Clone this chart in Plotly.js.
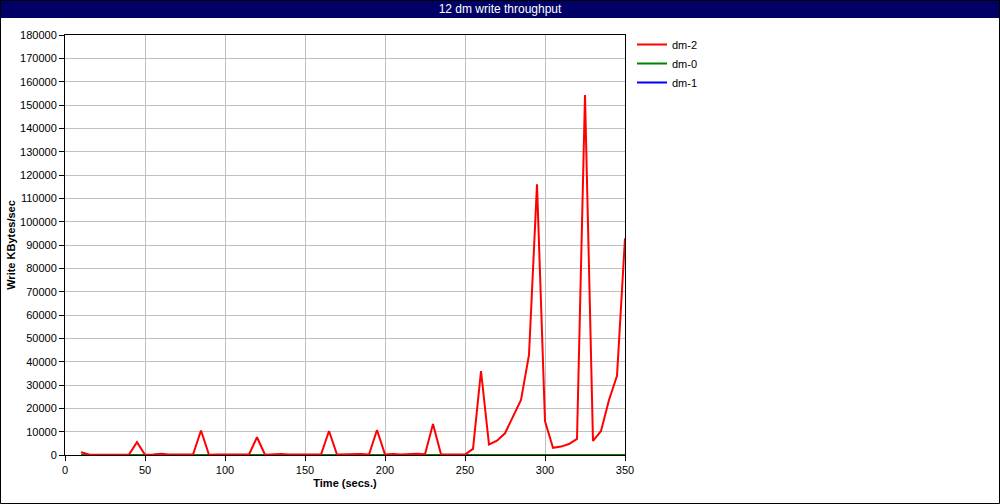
<!DOCTYPE html>
<html><head><meta charset="utf-8">
<script src="https://cdn.plot.ly/plotly-3.0.1.min.js"></script>
<style>html,body{margin:0;padding:0;background:#fff}#chart{width:1000px;height:504px}</style>
</head><body><div id="chart"></div>
<script>
const times = [10,15,20,25,30,35,40,45,50,55,60,65,70,75,80,85,90,95,100,105,110,115,120,125,130,135,140,145,150,155,160,165,170,175,180,185,190,195,200,205,210,215,220,225,230,235,240,245,250,255,260,265,270,275,280,285,290,295,300,305,310,315,320,325,330,335,340,345,350];
const dm2 = [1200,200,100,100,200,300,200,5500,100,200,500,200,200,300,200,10500,100,200,300,200,200,200,7600,100,300,400,200,300,200,200,200,10300,200,300,200,400,200,10700,200,400,200,500,500,300,13300,300,300,200,200,2600,36000,4500,6100,9300,16400,23600,42900,116000,14500,3100,3600,4700,6900,154300,6000,10300,23600,33900,92900];
const dm0 = times.map(() => 0);
const dm1 = times.map(() => 0);
const seriesNames = ['dm-2','dm-0','dm-1'];
const seriesColors = ['#ff0000','#008000','#0000ff'];

const W=1000,H=504,L=65,R=375,T=35,B=49;
const pw=W-L-R, ph=H-T-B;
const px = v => (v-L)/pw;       // pixel x -> paper
const py = v => 1-(v-T)/ph;     // pixel y -> paper

const traces = [
  {x:times,y:dm1,name:seriesNames[2],type:'scatter',mode:'lines',line:{color:seriesColors[2],width:2}},
  {x:times,y:dm0,name:seriesNames[1],type:'scatter',mode:'lines',line:{color:seriesColors[1],width:2}},
  {x:times,y:dm2,name:seriesNames[0],type:'scatter',mode:'lines',line:{color:seriesColors[0],width:2}}
];
const fontFam = 'Liberation Sans, Arial, sans-serif';
const layout = {
  width:W,height:H,
  margin:{l:L,r:R,t:T,b:B,pad:0},
  paper_bgcolor:'#fff',plot_bgcolor:'#fff',
  font:{family:fontFam,size:11,color:'#000'},
  title:{text:'12 dm write throughput',font:{family:fontFam,size:12,color:'#fff'},
    x:0.5,xref:'container',xanchor:'center',y:1-9/H,yref:'container',yanchor:'middle'},
  showlegend:true,
  legend:{x:px(632),y:py(30),xanchor:'left',yanchor:'top',traceorder:'reversed',
    font:{family:fontFam,size:11,color:'#000'},bgcolor:'rgba(0,0,0,0)',itemwidth:30,tracegroupgap:0},
  xaxis:{range:[0,350],dtick:50,tick0:0,showgrid:true,gridcolor:'#c0c0c0',gridwidth:1,
    showline:true,linecolor:'#000',linewidth:1,mirror:true,ticks:'outside',ticklen:5,tickcolor:'#000',
    zeroline:false,tickfont:{size:11},
    title:{text:'<b>Time (secs.)</b>',font:{size:11},standoff:4}},
  yaxis:{range:[0,180000],dtick:10000,tick0:0,showgrid:true,gridcolor:'#c0c0c0',gridwidth:1,
    showline:true,linecolor:'#000',linewidth:1,mirror:true,ticks:'outside',ticklen:5,tickcolor:'#000',
    zeroline:false,tickfont:{size:11},tickformat:'d',
    title:{text:'<b>Write KBytes/sec</b>',font:{size:11},standoff:2}},
  shapes:[
    {type:'rect',xref:'paper',yref:'paper',x0:px(0),x1:px(W),y0:py(0),y1:py(18),fillcolor:'#000066',line:{width:0},layer:'below'},
    {type:'rect',xref:'paper',yref:'paper',x0:px(0.5),x1:px(W-0.5),y0:py(0.5),y1:py(H-0.5),fillcolor:'rgba(0,0,0,0)',line:{color:'#000',width:1}}
  ]
};
Plotly.newPlot('chart',traces,layout,{staticPlot:true,displayModeBar:false});
</script></body></html>
